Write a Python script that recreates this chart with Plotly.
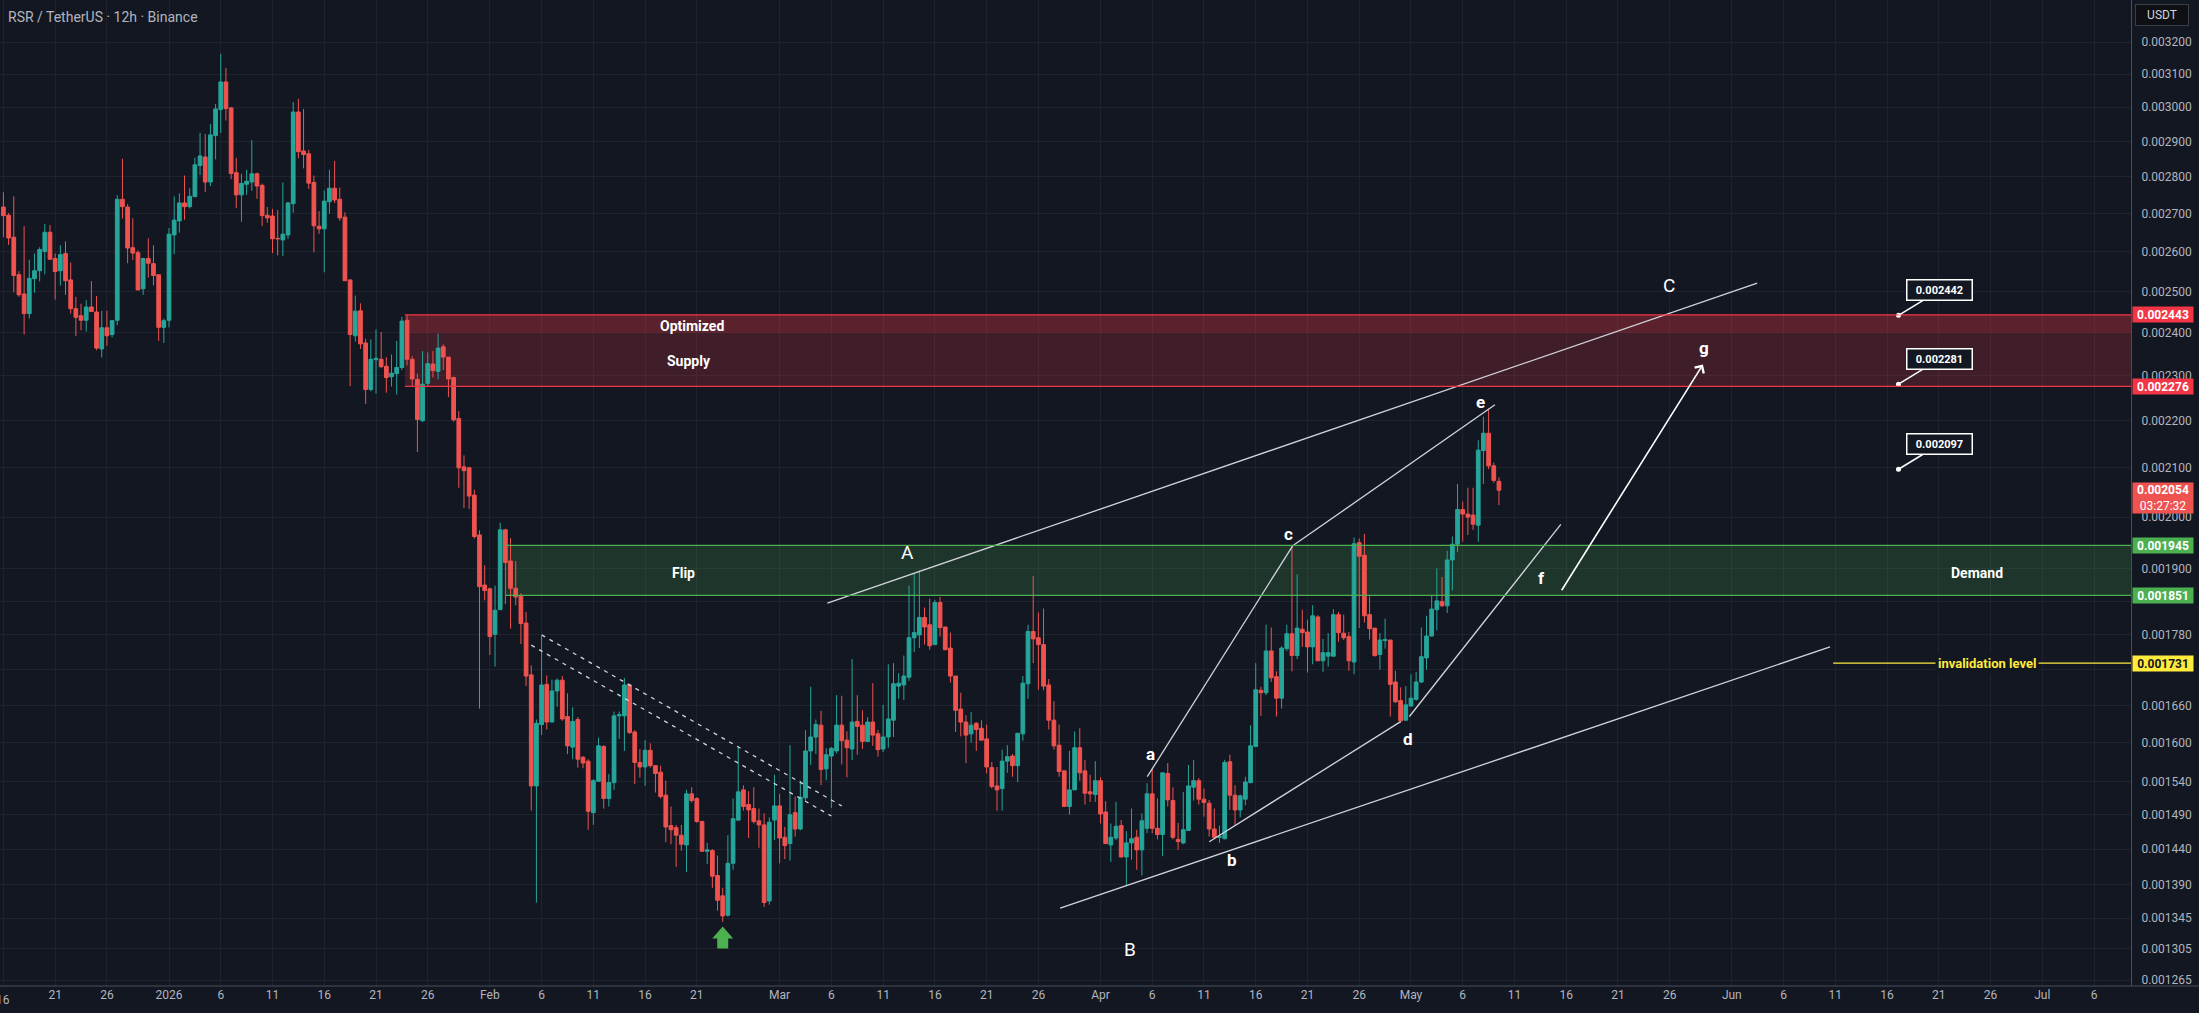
import numpy as np
import pandas as pd
import plotly.graph_objects as go

# RSR / USDT 12h candles, first bar 2025-12-16 00:00
start_time = "2025-12-16 00:00"

opens = [
    0.002718, 0.002696, 0.002638, 0.002542, 0.002494, 0.002446, 0.002532, 0.002552, 0.002601, 0.002651,
    0.002583, 0.002552, 0.002596, 0.002529, 0.002458, 0.002441, 0.002430, 0.002462, 0.002450, 0.002362,
    0.002412, 0.002396, 0.002430, 0.002739, 0.002718, 0.002611, 0.002598, 0.002507, 0.002583, 0.002570,
    0.002542, 0.002413, 0.002430, 0.002644, 0.002681, 0.002729, 0.002719, 0.002746, 0.002832, 0.002856,
    0.002786, 0.002917, 0.002993, 0.003076, 0.002998, 0.002812, 0.002751, 0.002780, 0.002786, 0.002809,
    0.002777, 0.002696, 0.002694, 0.002635, 0.002631, 0.002644, 0.002727, 0.002986, 0.002873, 0.002865,
    0.002785, 0.002667, 0.002660, 0.002732, 0.002769, 0.002739, 0.002691, 0.002529, 0.002393, 0.002453,
    0.002376, 0.002269, 0.002337, 0.002338, 0.002322, 0.002298, 0.002305, 0.002319, 0.002430, 0.002338,
    0.002292, 0.002200, 0.002283, 0.002327, 0.002310, 0.002367, 0.002343, 0.002296, 0.002205, 0.002102,
    0.002100, 0.002044, 0.001965, 0.001870, 0.001863, 0.001781, 0.001825, 0.001975, 0.001915, 0.001864,
    0.001849, 0.001801, 0.001711, 0.001533, 0.001629, 0.001695, 0.001633, 0.001684, 0.001702, 0.001642,
    0.001593, 0.001637, 0.001577, 0.001571, 0.001493, 0.001540, 0.001594, 0.001514, 0.001538, 0.001643,
    0.001643, 0.001694, 0.001617, 0.001569, 0.001562, 0.001588, 0.001564, 0.001554, 0.001519, 0.001474,
    0.001471, 0.001460, 0.001446, 0.001521, 0.001514, 0.001480, 0.001437, 0.001438, 0.001403, 0.001375,
    0.001349, 0.001420, 0.001482, 0.001527, 0.001505, 0.001499, 0.001481, 0.001475, 0.001368, 0.001482,
    0.001503, 0.001457, 0.001448, 0.001493, 0.001469, 0.001515, 0.001587, 0.001609, 0.001628, 0.001559,
    0.001579, 0.001587, 0.001628, 0.001604, 0.001590, 0.001634, 0.001628, 0.001602, 0.001633, 0.001614,
    0.001590, 0.001609, 0.001636, 0.001692, 0.001694, 0.001707, 0.001775, 0.001780, 0.001811, 0.001798,
    0.001763, 0.001838, 0.001794, 0.001757, 0.001709, 0.001654, 0.001633, 0.001614, 0.001631, 0.001623,
    0.001606, 0.001561, 0.001533, 0.001529, 0.001571, 0.001579, 0.001564, 0.001614, 0.001696, 0.001786,
    0.001775, 0.001763, 0.001694, 0.001636, 0.001596, 0.001556, 0.001502, 0.001527, 0.001592, 0.001556,
    0.001524, 0.001520, 0.001541, 0.001494, 0.001446, 0.001456, 0.001474, 0.001429, 0.001449, 0.001457,
    0.001439, 0.001470, 0.001521, 0.001470, 0.001461, 0.001552, 0.001511, 0.001454, 0.001449, 0.001467,
    0.001531, 0.001541, 0.001513, 0.001507, 0.001469, 0.001457, 0.001455, 0.001570, 0.001519, 0.001497,
    0.001513, 0.001538, 0.001594, 0.001685, 0.001681, 0.001752, 0.001708, 0.001672, 0.001756, 0.001782,
    0.001744, 0.001790, 0.001785, 0.001759, 0.001812, 0.001735, 0.001743, 0.001743, 0.001816, 0.001783,
    0.001777, 0.001733, 0.001950, 0.001926, 0.001816, 0.001792, 0.001746, 0.001770, 0.001771, 0.001699,
    0.001668, 0.001636, 0.001659, 0.001670, 0.001699, 0.001740, 0.001778, 0.001825, 0.001840, 0.001832,
    0.001917, 0.001947, 0.002015, 0.002006, 0.002004, 0.001984, 0.002136, 0.002173, 0.002104, 0.002072,
]

highs = [
    0.002758, 0.002702, 0.002747, 0.002551, 0.002667, 0.002580, 0.002596, 0.002612, 0.002673, 0.002670,
    0.002596, 0.002617, 0.002627, 0.002573, 0.002487, 0.002470, 0.002479, 0.002526, 0.002489, 0.002453,
    0.002453, 0.002429, 0.002750, 0.002851, 0.002726, 0.002688, 0.002604, 0.002585, 0.002635, 0.002617,
    0.002542, 0.002434, 0.002662, 0.002747, 0.002755, 0.002804, 0.002769, 0.002854, 0.002925, 0.002922,
    0.002951, 0.003010, 0.003163, 0.003119, 0.003001, 0.002854, 0.002809, 0.002820, 0.002904, 0.002812,
    0.002782, 0.002718, 0.002713, 0.002710, 0.002785, 0.002732, 0.003016, 0.003025, 0.002995, 0.002876,
    0.002804, 0.002707, 0.002763, 0.002820, 0.002845, 0.002771, 0.002704, 0.002529, 0.002490, 0.002471,
    0.002386, 0.002384, 0.002408, 0.002402, 0.002343, 0.002349, 0.002381, 0.002438, 0.002442, 0.002345,
    0.002305, 0.002357, 0.002354, 0.002357, 0.002398, 0.002373, 0.002343, 0.002298, 0.002221, 0.002126,
    0.002102, 0.002055, 0.001974, 0.001907, 0.001865, 0.001869, 0.001989, 0.001977, 0.001959, 0.001915,
    0.001855, 0.001821, 0.001727, 0.001637, 0.001778, 0.001710, 0.001703, 0.001705, 0.001709, 0.001680,
    0.001657, 0.001641, 0.001579, 0.001574, 0.001543, 0.001608, 0.001596, 0.001551, 0.001650, 0.001650,
    0.001706, 0.001696, 0.001620, 0.001590, 0.001604, 0.001599, 0.001564, 0.001564, 0.001541, 0.001502,
    0.001475, 0.001475, 0.001527, 0.001531, 0.001516, 0.001481, 0.001449, 0.001440, 0.001431, 0.001386,
    0.001460, 0.001514, 0.001594, 0.001534, 0.001525, 0.001531, 0.001499, 0.001492, 0.001486, 0.001550,
    0.001521, 0.001472, 0.001596, 0.001517, 0.001541, 0.001620, 0.001691, 0.001637, 0.001651, 0.001591,
    0.001593, 0.001677, 0.001676, 0.001618, 0.001738, 0.001677, 0.001652, 0.001641, 0.001697, 0.001620,
    0.001661, 0.001729, 0.001731, 0.001714, 0.001744, 0.001869, 0.001891, 0.001897, 0.001829, 0.001845,
    0.001843, 0.001848, 0.001794, 0.001784, 0.001709, 0.001681, 0.001644, 0.001649, 0.001633, 0.001636,
    0.001629, 0.001570, 0.001562, 0.001589, 0.001596, 0.001582, 0.001615, 0.001709, 0.001798, 0.001887,
    0.001820, 0.001827, 0.001704, 0.001667, 0.001629, 0.001556, 0.001587, 0.001618, 0.001623, 0.001573,
    0.001550, 0.001571, 0.001546, 0.001510, 0.001477, 0.001509, 0.001482, 0.001466, 0.001499, 0.001468,
    0.001492, 0.001537, 0.001559, 0.001514, 0.001553, 0.001568, 0.001531, 0.001478, 0.001524, 0.001565,
    0.001573, 0.001545, 0.001529, 0.001512, 0.001499, 0.001474, 0.001573, 0.001581, 0.001534, 0.001520,
    0.001547, 0.001628, 0.001731, 0.001691, 0.001798, 0.001793, 0.001717, 0.001760, 0.001798, 0.001944,
    0.001890, 0.001825, 0.001807, 0.001833, 0.001815, 0.001773, 0.001783, 0.001826, 0.001821, 0.001816,
    0.001785, 0.001960, 0.001958, 0.001967, 0.001849, 0.001792, 0.001783, 0.001809, 0.001771, 0.001718,
    0.001690, 0.001692, 0.001712, 0.001716, 0.001793, 0.001814, 0.001852, 0.001901, 0.001885, 0.001934,
    0.001962, 0.002067, 0.002031, 0.002059, 0.002059, 0.002158, 0.002209, 0.002227, 0.002111, 0.002080,
]

lows = [
    0.002638, 0.002618, 0.002498, 0.002487, 0.002396, 0.002434, 0.002497, 0.002525, 0.002543, 0.002581,
    0.002480, 0.002515, 0.002492, 0.002446, 0.002392, 0.002406, 0.002403, 0.002451, 0.002359, 0.002342,
    0.002369, 0.002389, 0.002418, 0.002687, 0.002571, 0.002579, 0.002504, 0.002492, 0.002535, 0.002515,
    0.002381, 0.002376, 0.002413, 0.002594, 0.002650, 0.002684, 0.002714, 0.002746, 0.002805, 0.002759,
    0.002775, 0.002849, 0.002925, 0.002961, 0.002794, 0.002715, 0.002679, 0.002751, 0.002762, 0.002740,
    0.002668, 0.002676, 0.002597, 0.002591, 0.002589, 0.002634, 0.002703, 0.002852, 0.002824, 0.002767,
    0.002599, 0.002647, 0.002548, 0.002700, 0.002729, 0.002681, 0.002527, 0.002277, 0.002379, 0.002362,
    0.002237, 0.002265, 0.002260, 0.002318, 0.002262, 0.002276, 0.002258, 0.002313, 0.002324, 0.002275,
    0.002133, 0.002198, 0.002275, 0.002296, 0.002292, 0.002313, 0.002252, 0.002198, 0.002059, 0.002018,
    0.002016, 0.001958, 0.001655, 0.001842, 0.001745, 0.001725, 0.001825, 0.001835, 0.001791, 0.001833,
    0.001764, 0.001692, 0.001496, 0.001366, 0.001612, 0.001621, 0.001633, 0.001658, 0.001635, 0.001582,
    0.001574, 0.001561, 0.001560, 0.001468, 0.001475, 0.001540, 0.001499, 0.001502, 0.001527, 0.001606,
    0.001587, 0.001614, 0.001536, 0.001546, 0.001533, 0.001561, 0.001523, 0.001514, 0.001450, 0.001447,
    0.001415, 0.001438, 0.001408, 0.001508, 0.001478, 0.001437, 0.001419, 0.001386, 0.001355, 0.001340,
    0.001347, 0.001411, 0.001481, 0.001496, 0.001456, 0.001477, 0.001442, 0.001360, 0.001363, 0.001453,
    0.001420, 0.001426, 0.001424, 0.001458, 0.001467, 0.001511, 0.001565, 0.001582, 0.001534, 0.001542,
    0.001500, 0.001583, 0.001566, 0.001546, 0.001573, 0.001581, 0.001590, 0.001602, 0.001595, 0.001578,
    0.001585, 0.001592, 0.001609, 0.001671, 0.001669, 0.001701, 0.001750, 0.001757, 0.001763, 0.001754,
    0.001763, 0.001777, 0.001754, 0.001698, 0.001617, 0.001610, 0.001568, 0.001600, 0.001587, 0.001604,
    0.001552, 0.001529, 0.001496, 0.001496, 0.001553, 0.001547, 0.001539, 0.001603, 0.001671, 0.001731,
    0.001686, 0.001685, 0.001621, 0.001589, 0.001547, 0.001502, 0.001490, 0.001527, 0.001541, 0.001505,
    0.001509, 0.001509, 0.001477, 0.001448, 0.001422, 0.001453, 0.001428, 0.001390, 0.001425, 0.001411,
    0.001403, 0.001463, 0.001463, 0.001454, 0.001430, 0.001502, 0.001454, 0.001439, 0.001447, 0.001466,
    0.001511, 0.001505, 0.001487, 0.001458, 0.001455, 0.001449, 0.001454, 0.001497, 0.001475, 0.001486,
    0.001504, 0.001537, 0.001594, 0.001643, 0.001677, 0.001699, 0.001642, 0.001655, 0.001752, 0.001717,
    0.001738, 0.001759, 0.001715, 0.001729, 0.001735, 0.001716, 0.001725, 0.001742, 0.001768, 0.001771,
    0.001718, 0.001712, 0.001792, 0.001802, 0.001772, 0.001742, 0.001720, 0.001756, 0.001642, 0.001664,
    0.001632, 0.001635, 0.001659, 0.001668, 0.001697, 0.001720, 0.001777, 0.001788, 0.001830, 0.001819,
    0.001860, 0.001932, 0.001952, 0.001965, 0.001975, 0.001952, 0.002067, 0.002097, 0.002069, 0.002024,
]

closes = [
    0.002695, 0.002636, 0.002540, 0.002492, 0.002446, 0.002533, 0.002552, 0.002606, 0.002651, 0.002581,
    0.002550, 0.002593, 0.002527, 0.002458, 0.002437, 0.002430, 0.002462, 0.002451, 0.002364, 0.002412,
    0.002393, 0.002429, 0.002739, 0.002719, 0.002610, 0.002597, 0.002504, 0.002583, 0.002571, 0.002540,
    0.002413, 0.002429, 0.002646, 0.002683, 0.002729, 0.002719, 0.002747, 0.002834, 0.002859, 0.002786,
    0.002919, 0.002995, 0.003076, 0.002996, 0.002810, 0.002751, 0.002782, 0.002788, 0.002809, 0.002775,
    0.002695, 0.002689, 0.002634, 0.002634, 0.002646, 0.002729, 0.002986, 0.002871, 0.002863, 0.002783,
    0.002668, 0.002660, 0.002734, 0.002769, 0.002737, 0.002689, 0.002527, 0.002396, 0.002452, 0.002374,
    0.002269, 0.002338, 0.002340, 0.002321, 0.002296, 0.002306, 0.002319, 0.002428, 0.002338, 0.002293,
    0.002203, 0.002281, 0.002328, 0.002312, 0.002364, 0.002343, 0.002293, 0.002202, 0.002100, 0.002094,
    0.002042, 0.001962, 0.001867, 0.001860, 0.001777, 0.001824, 0.001975, 0.001912, 0.001864, 0.001848,
    0.001800, 0.001709, 0.001533, 0.001631, 0.001694, 0.001633, 0.001684, 0.001702, 0.001638, 0.001595,
    0.001634, 0.001574, 0.001568, 0.001495, 0.001541, 0.001595, 0.001514, 0.001538, 0.001643, 0.001645,
    0.001694, 0.001616, 0.001569, 0.001562, 0.001588, 0.001564, 0.001552, 0.001517, 0.001472, 0.001468,
    0.001460, 0.001447, 0.001521, 0.001511, 0.001480, 0.001437, 0.001439, 0.001402, 0.001369, 0.001348,
    0.001420, 0.001484, 0.001524, 0.001502, 0.001497, 0.001480, 0.001475, 0.001366, 0.001479, 0.001503,
    0.001456, 0.001445, 0.001490, 0.001469, 0.001516, 0.001587, 0.001609, 0.001629, 0.001558, 0.001581,
    0.001591, 0.001628, 0.001603, 0.001592, 0.001633, 0.001626, 0.001602, 0.001633, 0.001612, 0.001589,
    0.001609, 0.001638, 0.001696, 0.001697, 0.001709, 0.001775, 0.001784, 0.001811, 0.001794, 0.001761,
    0.001838, 0.001793, 0.001754, 0.001709, 0.001652, 0.001633, 0.001612, 0.001628, 0.001621, 0.001604,
    0.001562, 0.001532, 0.001527, 0.001571, 0.001578, 0.001564, 0.001615, 0.001697, 0.001786, 0.001773,
    0.001763, 0.001692, 0.001636, 0.001595, 0.001555, 0.001502, 0.001527, 0.001592, 0.001553, 0.001522,
    0.001521, 0.001541, 0.001491, 0.001448, 0.001457, 0.001473, 0.001429, 0.001449, 0.001455, 0.001439,
    0.001481, 0.001521, 0.001470, 0.001461, 0.001553, 0.001512, 0.001457, 0.001451, 0.001468, 0.001533,
    0.001541, 0.001513, 0.001508, 0.001469, 0.001457, 0.001458, 0.001569, 0.001519, 0.001497, 0.001518,
    0.001539, 0.001595, 0.001686, 0.001681, 0.001752, 0.001706, 0.001672, 0.001757, 0.001782, 0.001744,
    0.001792, 0.001784, 0.001759, 0.001814, 0.001735, 0.001749, 0.001749, 0.001816, 0.001784, 0.001775,
    0.001735, 0.001948, 0.001924, 0.001814, 0.001791, 0.001744, 0.001771, 0.001772, 0.001695, 0.001666,
    0.001635, 0.001661, 0.001672, 0.001699, 0.001742, 0.001778, 0.001826, 0.001841, 0.001832, 0.001917,
    0.001947, 0.002015, 0.002006, 0.002000, 0.001986, 0.002137, 0.002173, 0.002104, 0.002074, 0.002054,
]

# axis ticks (0.00172 and 0.00184 sit under the level tags, so their text stays blank)
price_ticks = [0.001265, 0.001305, 0.001345, 0.00139, 0.00144, 0.00149, 0.00154, 0.0016, 0.00166,
               0.00172, 0.00178, 0.00184, 0.0019, 0.002, 0.0021, 0.0022, 0.0023, 0.0024, 0.0025,
               0.0026, 0.0027, 0.0028, 0.0029, 0.003, 0.0031, 0.0032]
hidden_ticks = [0.00172, 0.00184]
date_ticks = ["2025-12-16", "2025-12-21", "2025-12-26", "2026-01-01", "2026-01-06", "2026-01-11",
              "2026-01-16", "2026-01-21", "2026-01-26", "2026-02-01", "2026-02-06", "2026-02-11",
              "2026-02-16", "2026-02-21", "2026-03-01", "2026-03-06", "2026-03-11", "2026-03-16",
              "2026-03-21", "2026-03-26", "2026-04-01", "2026-04-06", "2026-04-11", "2026-04-16",
              "2026-04-21", "2026-04-26", "2026-05-01", "2026-05-06", "2026-05-11", "2026-05-16",
              "2026-05-21", "2026-05-26", "2026-06-01", "2026-06-06", "2026-06-11", "2026-06-16",
              "2026-06-21", "2026-06-26", "2026-07-01", "2026-07-06"]
date_labels = ["16", "21", "26", "2026", "6", "11", "16", "21", "26", "Feb", "6", "11", "16", "21",
               "Mar", "6", "11", "16", "21", "26", "Apr", "6", "11", "16", "21", "26", "May", "6",
               "11", "16", "21", "26", "Jun", "6", "11", "16", "21", "26", "Jul", "6"]
x_range = ["2025-12-15 16:05", "2026-07-09 13:40"]
y_range = [0.0012577, 0.0033358]

# zones and levels
supply_zone = [0.002276, 0.002443]
supply_top_band = 0.0024
supply_start = "2026-01-23 19:00"
flip_zone = [0.001851, 0.001945]
flip_start = "2026-02-02 12:00"
invalidation = 0.001731
invalidation_start = "2026-06-10 19:00"
last_price = 0.002054

# drawn lines (time, price)
upper_channel = [("2026-03-05 14:40", 0.001837), ("2026-06-03 10:50", 0.002521)]
lower_channel = [("2026-03-28 02:30", 0.0013585), ("2026-06-10 11:45", 0.001759)]
leg_a_c = [("2026-04-05 12:30", 0.001547), ("2026-04-19 13:40", 0.001944)]
leg_c_e = [("2026-04-19 13:40", 0.001944), ("2026-05-09 02:40", 0.002235)]
leg_b_d = [("2026-04-11 12:15", 0.0014506), ("2026-04-30 00:00", 0.0016337)]
leg_d_f = [("2026-04-30 20:20", 0.001642), ("2026-05-15 11:30", 0.0019856)]
dash_upper = [("2026-02-06 00:00", 0.001780), ("2026-03-07 00:00", 0.001503)]
dash_lower = [("2026-02-05 00:00", 0.001762), ("2026-03-06 00:00", 0.001488)]
target_arrow = [("2026-05-15 11:20", 0.0018576), ("2026-05-29 05:00", 0.0023258)]

# wave labels
wave_labels = ["A", "B", "C", "a", "b", "c", "d", "e", "f", "g"]
wave_times = ["2026-03-13 09:00", "2026-04-03 21:00", "2026-05-25 22:00", "2026-04-05 19:00",
              "2026-04-13 17:30", "2026-04-19 05:00", "2026-04-30 18:00", "2026-05-07 18:00",
              "2026-05-13 14:00", "2026-05-29 07:00"]
wave_prices = [0.001931, 0.001304, 0.002514, 0.001582, 0.001424, 0.001967, 0.001606, 0.002241,
               0.0018826, 0.002364]

# zone captions
zone_texts = ["Optimized", "Supply", "Flip", "Demand"]
zone_text_times = ["2026-02-20 12:00", "2026-02-20 05:00", "2026-02-19 16:00", "2026-06-24 17:00"]
zone_text_prices = [0.002417, 0.002335, 0.001893, 0.001893]

# price notes
note_prices = [0.002442, 0.002281, 0.002097]
note_time = "2026-06-17 02:30"

# buy signal arrow anchor
signal_time = "2026-02-23 12:00"
signal_price = 0.001334

BG = "#131722"
GRID = "#1f232e"
AXIS_TXT = "#b2b5be"
UP = "#26a69a"
DOWN = "#ef5350"
RED = "#f23645"
GREEN = "#4caf50"
YELLOW = "#ffeb3b"
LINE = "#d1d4dc"
FONT = "Roboto, Open Sans, sans-serif"

times = pd.date_range(start_time, periods=len(closes), freq="12h")
ly = np.log10

fig = go.Figure()
fig.add_trace(go.Candlestick(
    x=times, open=opens, high=highs, low=lows, close=closes,
    increasing=dict(line=dict(color=UP, width=1), fillcolor=UP),
    decreasing=dict(line=dict(color=DOWN, width=1), fillcolor=DOWN),
    whiskerwidth=0, hoverinfo="skip", showlegend=False))

# zones
fig.add_shape(type="rect", x0=supply_start, x1="2026-08-01", y0=supply_zone[0], y1=supply_zone[1],
              fillcolor="rgba(242,54,69,0.20)", line_width=0, layer="between")
fig.add_shape(type="rect", x0=supply_start, x1="2026-08-01", y0=supply_top_band, y1=supply_zone[1],
              fillcolor="rgba(242,54,69,0.16)", line_width=0, layer="between")
fig.add_shape(type="rect", x0=flip_start, x1="2026-08-01", y0=flip_zone[0], y1=flip_zone[1],
              fillcolor="rgba(76,175,80,0.20)", line_width=0, layer="between")
for lvl in supply_zone:
    fig.add_shape(type="line", x0=supply_start, x1="2026-08-01", y0=lvl, y1=lvl,
                  line=dict(color=RED, width=1.3))
for lvl in flip_zone:
    fig.add_shape(type="line", x0=flip_start, x1="2026-08-01", y0=lvl, y1=lvl,
                  line=dict(color=GREEN, width=1.3))
fig.add_shape(type="line", x0=invalidation_start, x1="2026-08-01", y0=invalidation, y1=invalidation,
              line=dict(color=YELLOW, width=1.3))

# trend lines
for seg in [upper_channel, lower_channel, leg_a_c, leg_c_e, leg_b_d, leg_d_f]:
    fig.add_trace(go.Scatter(x=[p[0] for p in seg], y=[p[1] for p in seg], mode="lines",
                             line=dict(color=LINE, width=1.3), hoverinfo="skip", showlegend=False))
for seg in [dash_upper, dash_lower]:
    fig.add_trace(go.Scatter(x=[p[0] for p in seg], y=[p[1] for p in seg], mode="lines",
                             line=dict(color=LINE, width=1.3, dash="4px,5px"),
                             hoverinfo="skip", showlegend=False))

# target arrow
fig.add_annotation(x=target_arrow[1][0], y=ly(target_arrow[1][1]), ax=target_arrow[0][0],
                   ay=ly(target_arrow[0][1]), xref="x", yref="y", axref="x", ayref="y", text="",
                   showarrow=True, arrowhead=4, arrowsize=1.3, arrowwidth=1.6, arrowcolor="#ffffff")

# wave letters
for lab, t, p in zip(wave_labels, wave_times, wave_prices):
    big = lab.isupper()
    fig.add_annotation(x=t, y=ly(p), text=f"<b>{lab}</b>" if not big else lab, showarrow=False,
                       font=dict(family=FONT, size=19 if big else 17, color="#ffffff"))

# zone captions
for txt, t, p in zip(zone_texts, zone_text_times, zone_text_prices):
    fig.add_annotation(x=t, y=ly(p), text=f"<b>{txt}</b>", showarrow=False,
                       font=dict(family=FONT, size=14, color="#ffffff"))

fig.add_annotation(x="2026-06-25 16:00", y=ly(invalidation), text="<b>invalidation level</b>",
                   showarrow=False, bgcolor=BG, borderpad=2,
                   font=dict(family=FONT, size=13, color=YELLOW))

# price notes with pointer
fig.add_trace(go.Scatter(x=[note_time] * len(note_prices), y=note_prices, mode="markers",
                         marker=dict(color="#ffffff", size=5), hoverinfo="skip", showlegend=False))
for p in note_prices:
    fig.add_annotation(x=note_time, y=ly(p), ax=41, ay=-25, text=f"<b>{p:.6f}</b>",
                       showarrow=True, arrowhead=0, arrowwidth=1.5, arrowcolor="#ffffff",
                       bgcolor=BG, bordercolor="#ffffff", borderwidth=1.5, borderpad=3,
                       width=58, font=dict(family=FONT, size=11, color="#ffffff"))

# buy signal arrow (pixel sized, anchored to the low)
fig.add_shape(type="path", xref="x", yref="y", xsizemode="pixel", ysizemode="pixel",
              xanchor=signal_time, yanchor=signal_price,
              path="M 0,0 L 10.5,-12 L 5.5,-12 L 5.5,-22 L -5.5,-22 L -5.5,-12 L -10.5,-12 Z",
              fillcolor=GREEN, line_width=0)

# right axis price labels
axis_labels = [(supply_zone[1], RED, "#ffffff"), (supply_zone[0], RED, "#ffffff"),
               (flip_zone[1], GREEN, "#ffffff"), (flip_zone[0], GREEN, "#ffffff"),
               (invalidation, YELLOW, "#131722")]
for p, bg, fg in axis_labels:
    fig.add_annotation(xref="paper", x=1, xanchor="left", xshift=1, y=ly(p), yanchor="middle",
                       text=f"<b>{p:.6f}</b>", showarrow=False, bgcolor=bg, width=58, height=13,
                       font=dict(family=FONT, size=12, color=fg))
fig.add_annotation(xref="paper", x=1, xanchor="left", xshift=1, y=ly(last_price), yanchor="top",
                   yshift=8.5, text=f"<b>{last_price:.6f}</b><br>03:27:32", showarrow=False,
                   bgcolor=DOWN, width=58, height=28, font=dict(family=FONT, size=12, color="#ffffff"))

# first date label sits on the left edge (plotly drops it), draw it by hand
fig.add_annotation(x=date_ticks[0], xref="x", yref="paper", y=0, yanchor="top", yshift=-5,
                   text=date_labels[0], showarrow=False,
                   font=dict(family=FONT, size=12, color=AXIS_TXT))

# header
fig.add_annotation(xref="paper", yref="paper", x=0, y=1, xanchor="left", yanchor="top", xshift=6,
                   yshift=-7, text="RSR / TetherUS · 12h · Binance", showarrow=False,
                   font=dict(family=FONT, size=14, color=AXIS_TXT))
fig.add_annotation(xref="paper", yref="paper", x=1, y=1, xanchor="left", yanchor="top", xshift=4,
                   yshift=-4, text="USDT", showarrow=False, bgcolor="#0f1014",
                   bordercolor="#3b3e47", borderwidth=1, width=50, height=18,
                   font=dict(family=FONT, size=12, color="#d1d4dc"))
fig.add_shape(type="line", xref="paper", yref="paper", x0=0, x1=1.04, y0=0, y1=0,
              line=dict(color="#4a4e59", width=1))

fig.update_layout(
    width=2199, height=1013,
    margin=dict(l=0, r=68, t=0, b=27),
    paper_bgcolor=BG, plot_bgcolor=BG,
    boxgap=0.1, boxgroupgap=0.2,
    showlegend=False, hovermode=False,
    font=dict(family=FONT, color=AXIS_TXT, size=12),
    xaxis=dict(type="date", range=x_range, rangeslider=dict(visible=False),
               tickvals=date_ticks, ticktext=date_labels, showgrid=True, gridcolor=GRID,
               gridwidth=1, zeroline=False, showline=False, ticks="",
               tickfont=dict(family=FONT, size=12, color=AXIS_TXT)),
    yaxis=dict(type="log", side="right", range=[ly(y_range[0]), ly(y_range[1])],
               tickvals=price_ticks,
               ticktext=["" if v in hidden_ticks else f"{v:.6f}" for v in price_ticks],
               showgrid=True, gridcolor=GRID, gridwidth=1, zeroline=False,
               showline=True, linecolor="#4a4e59", linewidth=1, ticks="",
               ticklabelstandoff=7, tickfont=dict(family=FONT, size=12, color=AXIS_TXT)),
)

fig.write_html("out.html", config={"displayModeBar": False},
               post_script="document.body.style.margin='0';document.body.style.overflow='hidden';")
